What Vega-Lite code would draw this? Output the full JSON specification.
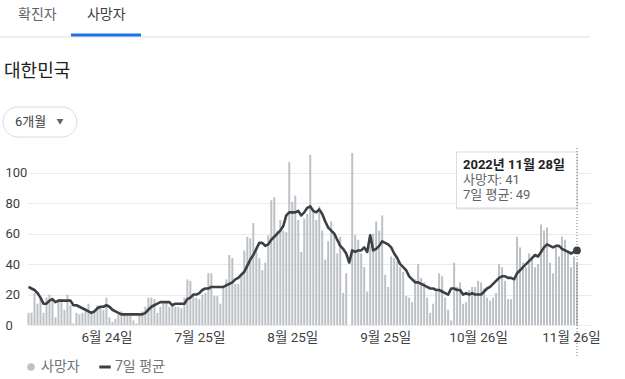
{
  "$schema": "https://vega.github.io/schema/vega-lite/v6.json",
  "width": 564,
  "height": 175,
  "autosize": {"type": "none"},
  "padding": {"left": 28, "top": 150, "right": 33, "bottom": 54},
  "background": "white",
  "config": {"font": "Roboto, 'Noto Sans CJK KR', sans-serif", "view": {"stroke": null}, "axis": {"labelOverlap": false}, "axisY": {"labelOverlap": false, "tickCount": 6}},
  "data": {"values": [
    {"date":"2022-05-29","deaths":8,"avg":25},{"date":"2022-05-30","deaths":8,"avg":24},{"date":"2022-05-31","deaths":21,"avg":23},
    {"date":"2022-06-01","deaths":14,"avg":21},{"date":"2022-06-02","deaths":18,"avg":18},{"date":"2022-06-03","deaths":8,"avg":14},{"date":"2022-06-04","deaths":18,"avg":14},{"date":"2022-06-05","deaths":20,"avg":16},{"date":"2022-06-06","deaths":18,"avg":17},{"date":"2022-06-07","deaths":5,"avg":15},{"date":"2022-06-08","deaths":17,"avg":16},{"date":"2022-06-09","deaths":17,"avg":16},{"date":"2022-06-10","deaths":10,"avg":16},
    {"date":"2022-06-11","deaths":20,"avg":16},{"date":"2022-06-12","deaths":13,"avg":16},{"date":"2022-06-13","deaths":1,"avg":13},{"date":"2022-06-14","deaths":8,"avg":13},{"date":"2022-06-15","deaths":7,"avg":12},{"date":"2022-06-16","deaths":8,"avg":11},{"date":"2022-06-17","deaths":9,"avg":10},{"date":"2022-06-18","deaths":14,"avg":9},{"date":"2022-06-19","deaths":8,"avg":8},{"date":"2022-06-20","deaths":10,"avg":9},
    {"date":"2022-06-21","deaths":13,"avg":11},{"date":"2022-06-22","deaths":12,"avg":12},{"date":"2022-06-23","deaths":10,"avg":12},{"date":"2022-06-24","deaths":18,"avg":13},{"date":"2022-06-25","deaths":5,"avg":12},{"date":"2022-06-26","deaths":2,"avg":10},{"date":"2022-06-27","deaths":4,"avg":9},{"date":"2022-06-28","deaths":7,"avg":8},{"date":"2022-06-29","deaths":9,"avg":7},{"date":"2022-06-30","deaths":8,"avg":7},
    {"date":"2022-07-01","deaths":6,"avg":7},{"date":"2022-07-02","deaths":6,"avg":7},{"date":"2022-07-03","deaths":3,"avg":7},{"date":"2022-07-04","deaths":1,"avg":7},{"date":"2022-07-05","deaths":7,"avg":7},{"date":"2022-07-06","deaths":9,"avg":7},{"date":"2022-07-07","deaths":12,"avg":8},{"date":"2022-07-08","deaths":18,"avg":10},{"date":"2022-07-09","deaths":18,"avg":12},{"date":"2022-07-10","deaths":17,"avg":13},
    {"date":"2022-07-11","deaths":8,"avg":14},{"date":"2022-07-12","deaths":12,"avg":15},{"date":"2022-07-13","deaths":14,"avg":15},{"date":"2022-07-14","deaths":15,"avg":15},{"date":"2022-07-15","deaths":12,"avg":15},{"date":"2022-07-16","deaths":13,"avg":13},{"date":"2022-07-17","deaths":12,"avg":14},{"date":"2022-07-18","deaths":12,"avg":14},{"date":"2022-07-19","deaths":11,"avg":14},{"date":"2022-07-20","deaths":18,"avg":14},
    {"date":"2022-07-21","deaths":30,"avg":17},{"date":"2022-07-22","deaths":29,"avg":18},{"date":"2022-07-23","deaths":20,"avg":20},{"date":"2022-07-24","deaths":18,"avg":20},{"date":"2022-07-25","deaths":17,"avg":21},{"date":"2022-07-26","deaths":20,"avg":23},{"date":"2022-07-27","deaths":21,"avg":24},{"date":"2022-07-28","deaths":34,"avg":24},{"date":"2022-07-29","deaths":34,"avg":25},{"date":"2022-07-30","deaths":19,"avg":25},{"date":"2022-07-31","deaths":19,"avg":25},
    {"date":"2022-08-01","deaths":14,"avg":25},{"date":"2022-08-02","deaths":25,"avg":25},{"date":"2022-08-03","deaths":30,"avg":26},{"date":"2022-08-04","deaths":46,"avg":27},{"date":"2022-08-05","deaths":44,"avg":28},{"date":"2022-08-06","deaths":27,"avg":30},{"date":"2022-08-07","deaths":27,"avg":31},{"date":"2022-08-08","deaths":32,"avg":33},{"date":"2022-08-09","deaths":49,"avg":35},{"date":"2022-08-10","deaths":58,"avg":39},
    {"date":"2022-08-11","deaths":57,"avg":43},{"date":"2022-08-12","deaths":67,"avg":46},{"date":"2022-08-13","deaths":50,"avg":50},{"date":"2022-08-14","deaths":44,"avg":54},{"date":"2022-08-15","deaths":36,"avg":54},{"date":"2022-08-16","deaths":41,"avg":52},{"date":"2022-08-17","deaths":59,"avg":53},{"date":"2022-08-18","deaths":82,"avg":56},{"date":"2022-08-19","deaths":84,"avg":58},{"date":"2022-08-20","deaths":62,"avg":60},
    {"date":"2022-08-21","deaths":69,"avg":62},{"date":"2022-08-22","deaths":62,"avg":65},{"date":"2022-08-23","deaths":61,"avg":72},{"date":"2022-08-24","deaths":107,"avg":74},{"date":"2022-08-25","deaths":81,"avg":74},{"date":"2022-08-26","deaths":85,"avg":74},{"date":"2022-08-27","deaths":69,"avg":75},{"date":"2022-08-28","deaths":48,"avg":72},{"date":"2022-08-29","deaths":70,"avg":74},{"date":"2022-08-30","deaths":73,"avg":77},{"date":"2022-08-31","deaths":112,"avg":78},
    {"date":"2022-09-01","deaths":76,"avg":75},{"date":"2022-09-02","deaths":69,"avg":74},{"date":"2022-09-03","deaths":78,"avg":76},{"date":"2022-09-04","deaths":62,"avg":73},{"date":"2022-09-05","deaths":43,"avg":68},{"date":"2022-09-06","deaths":55,"avg":64},{"date":"2022-09-07","deaths":68,"avg":62},{"date":"2022-09-08","deaths":59,"avg":60},{"date":"2022-09-09","deaths":47,"avg":56},{"date":"2022-09-10","deaths":58,"avg":52},
    {"date":"2022-09-11","deaths":21,"avg":50},{"date":"2022-09-12","deaths":34,"avg":47},{"date":"2022-09-13","deaths":0,"avg":41},{"date":"2022-09-14","deaths":113,"avg":49},{"date":"2022-09-15","deaths":59,"avg":48},{"date":"2022-09-16","deaths":56,"avg":49},{"date":"2022-09-17","deaths":47,"avg":49},{"date":"2022-09-18","deaths":38,"avg":51},{"date":"2022-09-19","deaths":22,"avg":48},{"date":"2022-09-20","deaths":52,"avg":59},
    {"date":"2022-09-21","deaths":60,"avg":49},{"date":"2022-09-22","deaths":68,"avg":50},{"date":"2022-09-23","deaths":62,"avg":52},{"date":"2022-09-24","deaths":72,"avg":55},{"date":"2022-09-25","deaths":33,"avg":54},{"date":"2022-09-26","deaths":25,"avg":53},{"date":"2022-09-27","deaths":45,"avg":51},{"date":"2022-09-28","deaths":44,"avg":47},{"date":"2022-09-29","deaths":42,"avg":44},{"date":"2022-09-30","deaths":38,"avg":40},
    {"date":"2022-10-01","deaths":35,"avg":38},{"date":"2022-10-02","deaths":19,"avg":36},{"date":"2022-10-03","deaths":18,"avg":32},{"date":"2022-10-04","deaths":15,"avg":30},{"date":"2022-10-05","deaths":30,"avg":28},{"date":"2022-10-06","deaths":40,"avg":28},{"date":"2022-10-07","deaths":31,"avg":27},{"date":"2022-10-08","deaths":28,"avg":26},{"date":"2022-10-09","deaths":18,"avg":25},{"date":"2022-10-10","deaths":8,"avg":24},
    {"date":"2022-10-11","deaths":14,"avg":24},{"date":"2022-10-12","deaths":22,"avg":23},{"date":"2022-10-13","deaths":34,"avg":23},{"date":"2022-10-14","deaths":32,"avg":22},{"date":"2022-10-15","deaths":18,"avg":21},{"date":"2022-10-16","deaths":10,"avg":20},{"date":"2022-10-17","deaths":3,"avg":24},{"date":"2022-10-18","deaths":41,"avg":24},{"date":"2022-10-19","deaths":25,"avg":23},{"date":"2022-10-20","deaths":28,"avg":23},
    {"date":"2022-10-21","deaths":14,"avg":20},{"date":"2022-10-22","deaths":15,"avg":21},{"date":"2022-10-23","deaths":23,"avg":20},{"date":"2022-10-24","deaths":25,"avg":21},{"date":"2022-10-25","deaths":25,"avg":20},{"date":"2022-10-26","deaths":29,"avg":20},{"date":"2022-10-27","deaths":28,"avg":20},{"date":"2022-10-28","deaths":24,"avg":22},{"date":"2022-10-29","deaths":18,"avg":24},{"date":"2022-10-30","deaths":16,"avg":25},{"date":"2022-10-31","deaths":18,"avg":27},
    {"date":"2022-11-01","deaths":21,"avg":29},{"date":"2022-11-02","deaths":40,"avg":31},{"date":"2022-11-03","deaths":38,"avg":32},{"date":"2022-11-04","deaths":29,"avg":32},{"date":"2022-11-05","deaths":17,"avg":31},{"date":"2022-11-06","deaths":17,"avg":31},{"date":"2022-11-07","deaths":29,"avg":30},{"date":"2022-11-08","deaths":58,"avg":34},{"date":"2022-11-09","deaths":51,"avg":36},{"date":"2022-11-10","deaths":41,"avg":38},
    {"date":"2022-11-11","deaths":38,"avg":40},{"date":"2022-11-12","deaths":47,"avg":42},{"date":"2022-11-13","deaths":45,"avg":44},{"date":"2022-11-14","deaths":38,"avg":46},{"date":"2022-11-15","deaths":40,"avg":45},{"date":"2022-11-16","deaths":66,"avg":48},{"date":"2022-11-17","deaths":62,"avg":51},{"date":"2022-11-18","deaths":64,"avg":53},{"date":"2022-11-19","deaths":41,"avg":52},{"date":"2022-11-20","deaths":34,"avg":51},
    {"date":"2022-11-21","deaths":51,"avg":52},{"date":"2022-11-22","deaths":45,"avg":52},{"date":"2022-11-23","deaths":58,"avg":50},{"date":"2022-11-24","deaths":56,"avg":49},{"date":"2022-11-25","deaths":49,"avg":48},{"date":"2022-11-26","deaths":38,"avg":47},{"date":"2022-11-27","deaths":45,"avg":48},{"date":"2022-11-28","deaths":41,"avg":49}
  ]},
  "layer": [
    {
      "mark": {"type": "bar", "width": 2, "color": "#bdc1c6"},
      "encoding": {
        "x": {"field": "date", "type": "temporal",
          "scale": {"type": "utc", "padding": 0, "domain": [{"year":2022,"month":5,"date":28,"hours":20,"utc":true},{"year":2022,"month":12,"date":3,"utc":true}]},
          "axis": {"title": null, "values": [{"year":2022,"month":6,"date":24,"utc":true},{"year":2022,"month":7,"date":25,"utc":true},{"year":2022,"month":8,"date":25,"utc":true},{"year":2022,"month":9,"date":25,"utc":true},{"year":2022,"month":10,"date":26,"utc":true},{"year":2022,"month":11,"date":26,"utc":true}],
            "format": "%-m월 %-d일", "grid": false, "domain": false, "ticks": false, "tickSize": 0, "labelPadding": 5, "labelFontSize": 13.5, "labelColor": "#3c4043", "labelFlush": false, "labelOverlap": false}},
        "y": {"field": "deaths", "type": "quantitative",
          "scale": {"domain": [0, 115], "nice": false, "zero": true},
          "axis": {"title": null, "values": [0,20,40,60,80,100], "grid": true, "gridColor": "#e8eaed", "domain": false, "ticks": false, "tickSize": 0, "labelAlign": "left", "labelPadding": 23, "labelFontSize": 13, "labelColor": "#3c4043", "labelOverlap": false, "labelFlush": false}},
        "color": {"datum": "사망자", "type": "nominal",
          "scale": {"domain": ["사망자", "7일 평균"], "range": ["#bdc1c6", "#3c4043"]},
          "legend": {"title": null, "orient": "none", "legendX": -4, "legendY": 210, "direction": "horizontal",
            "labelFontSize": 14, "labelColor": "#70757a", "labelOffset": 3, "columnPadding": 13, "symbolSize": 120,
            "encode": {"symbols": {"update": {
              "shape": {"signal": "datum.value === '사망자' ? 'circle' : 'stroke'"},
              "size": {"signal": "datum.value === '사망자' ? 56 : 130"},
              "strokeWidth": {"signal": "datum.value === '사망자' ? 0 : 3"},
              "fill": {"signal": "datum.value === '사망자' ? '#bdc1c6' : 'transparent'"},
              "stroke": {"signal": "datum.value === '사망자' ? 'transparent' : '#3c4043'"},
              "opacity": {"value": 1}
            }}}}}
      }
    },
    {
      "mark": {"type": "line", "strokeWidth": 2.6, "strokeJoin": "round", "color": "#3c4043"},
      "encoding": {
        "x": {"field": "date", "type": "temporal"},
        "y": {"field": "avg", "type": "quantitative",
          "axis": {"title": null, "values": [0,20,40,60,80,100], "grid": true, "gridColor": "#e8eaed", "domain": false, "ticks": false, "tickSize": 0, "labelAlign": "left", "labelPadding": 23, "labelFontSize": 13, "labelColor": "#3c4043", "labelOverlap": false, "labelFlush": false}},
        "color": {"datum": "7일 평균", "type": "nominal"}
      }
    },
    {
      "data": {"values": [{}]},
      "mark": {"type": "rule", "color": "#e0e0e0", "strokeWidth": 1},
      "encoding": {
        "x": {"datum": {"year":2022,"month":5,"date":19,"hours":12,"utc":true}, "type": "temporal"},
        "x2": {"datum": {"year":2022,"month":12,"date":2,"hours":7,"utc":true}},
        "y": {"datum": 189.3, "type": "quantitative"}
      }
    },
    {
      "data": {"values": [{}]},
      "mark": {"type": "rule", "color": "#1a73e8", "strokeWidth": 3},
      "encoding": {
        "x": {"datum": {"year":2022,"month":6,"date":12,"hours":4,"utc":true}, "type": "temporal"},
        "x2": {"datum": {"year":2022,"month":7,"date":5,"hours":13,"utc":true}},
        "y": {"datum": 190.6, "type": "quantitative"}
      }
    },
    {
      "data": {"values": [{}]},
      "mark": {"type": "text", "text": "확진자", "align": "left", "baseline": "middle", "fontSize": 14, "color": "#5f6368"},
      "encoding": {
        "x": {"datum": {"year":2022,"month":5,"date":25,"hours":12,"utc":true}, "type": "temporal"},
        "y": {"datum": 203.7, "type": "quantitative"}
      }
    },
    {
      "data": {"values": [{}]},
      "mark": {"type": "text", "text": "사망자", "align": "left", "baseline": "middle", "fontSize": 14, "color": "#3c4043"},
      "encoding": {
        "x": {"datum": {"year":2022,"month":6,"date":17,"hours":12,"utc":true}, "type": "temporal"},
        "y": {"datum": 203.7, "type": "quantitative"}
      }
    },
    {
      "data": {"values": [{}]},
      "mark": {"type": "text", "text": "대한민국", "align": "left", "baseline": "middle", "fontSize": 18, "color": "#202124"},
      "encoding": {
        "x": {"datum": {"year":2022,"month":5,"date":20,"hours":20,"utc":true}, "type": "temporal"},
        "y": {"datum": 166.3, "type": "quantitative"}
      }
    },
    {
      "data": {"values": [{}]},
      "mark": {"type": "rect", "fill": "white", "stroke": "#dadce0", "strokeWidth": 1, "cornerRadius": 15},
      "encoding": {
        "x": {"datum": {"year":2022,"month":5,"date":20,"hours":12,"utc":true}, "type": "temporal"},
        "x2": {"datum": {"year":2022,"month":6,"date":14,"hours":4,"utc":true}},
        "y": {"datum": 143.3, "type": "quantitative"},
        "y2": {"datum": 123.5}
      }
    },
    {
      "data": {"values": [{}]},
      "mark": {"type": "text", "text": "6개월", "align": "left", "baseline": "middle", "fontSize": 13, "color": "#3c4043"},
      "encoding": {
        "x": {"datum": {"year":2022,"month":5,"date":24,"hours":12,"utc":true}, "type": "temporal"},
        "y": {"datum": 133.4, "type": "quantitative"}
      }
    },
    {
      "data": {"values": [{}]},
      "mark": {"type": "text", "text": "▼", "align": "center", "baseline": "middle", "fontSize": 7, "color": "#5f6368"},
      "encoding": {
        "x": {"datum": {"year":2022,"month":6,"date":8,"hours":12,"utc":true}, "type": "temporal"},
        "y": {"datum": 133.4, "type": "quantitative"}
      }
    },
    {
      "data": {"values": [{}]},
      "mark": {"type": "rect", "fill": "#e6e6e6"},
      "encoding": {
        "x": {"datum": {"year":2022,"month":10,"date":18,"hours":19,"utc":true}, "type": "temporal"},
        "x2": {"datum": {"year":2022,"month":11,"date":28,"hours":8,"utc":true}},
        "y": {"datum": 113.7, "type": "quantitative"},
        "y2": {"datum": 75.9}
      }
    },
    {
      "data": {"values": [{}]},
      "mark": {"type": "rect", "fill": "white", "stroke": "#dcdcdc", "strokeWidth": 1},
      "encoding": {
        "x": {"datum": {"year":2022,"month":10,"date":18,"hours":19,"utc":true}, "type": "temporal"},
        "x2": {"datum": {"year":2022,"month":11,"date":28,"utc":true}},
        "y": {"datum": 113.7, "type": "quantitative"},
        "y2": {"datum": 76.9}
      }
    },
    {
      "data": {"values": [{}]},
      "mark": {"type": "text", "text": "2022년 11월 28일", "align": "left", "baseline": "middle", "fontSize": 13, "fontWeight": "bold", "color": "#202124"},
      "encoding": {
        "x": {"datum": {"year":2022,"month":10,"date":20,"hours":23,"utc":true}, "type": "temporal"},
        "y": {"datum": 105.1, "type": "quantitative"}
      }
    },
    {
      "data": {"values": [{}]},
      "mark": {"type": "text", "text": "사망자: 41", "align": "left", "baseline": "middle", "fontSize": 13, "color": "#5f6368"},
      "encoding": {
        "x": {"datum": {"year":2022,"month":10,"date":20,"hours":23,"utc":true}, "type": "temporal"},
        "y": {"datum": 95.3, "type": "quantitative"}
      }
    },
    {
      "data": {"values": [{}]},
      "mark": {"type": "text", "text": "7일 평균: 49", "align": "left", "baseline": "middle", "fontSize": 13, "color": "#5f6368"},
      "encoding": {
        "x": {"datum": {"year":2022,"month":10,"date":20,"hours":23,"utc":true}, "type": "temporal"},
        "y": {"datum": 85.4, "type": "quantitative"}
      }
    },
    {
      "data": {"values": [{}]},
      "mark": {"type": "rule", "color": "#757575", "strokeWidth": 1, "strokeDash": [1, 2]},
      "encoding": {
        "x": {"datum": {"year":2022,"month":11,"date":28,"utc":true}, "type": "temporal"},
        "y": {"datum": 116.3, "type": "quantitative"},
        "y2": {"datum": -21.7}
      }
    },
    {
      "transform": [{"filter": "time(datum.date) == utc(2022, 10, 28)"}],
      "mark": {"type": "point", "filled": true, "size": 60, "color": "#3c4043", "opacity": 1},
      "encoding": {
        "x": {"field": "date", "type": "temporal"},
        "y": {"field": "avg", "type": "quantitative"}
      }
    }
  ]
}
